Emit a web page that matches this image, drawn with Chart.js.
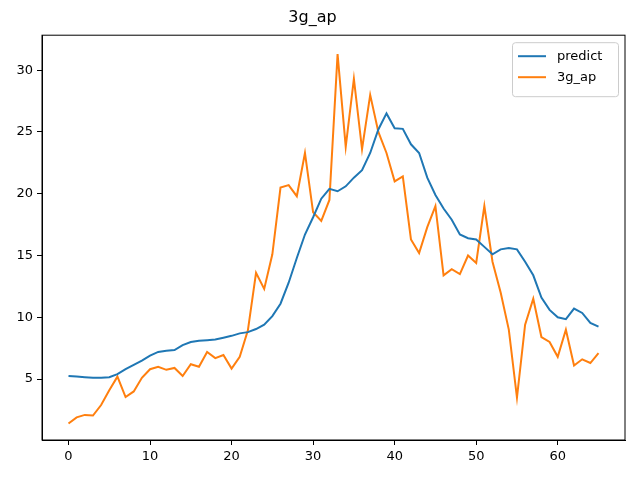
<!DOCTYPE html>
<html>
<head>
<meta charset="utf-8">
<script src="https://cdn.jsdelivr.net/npm/chart.js@4"></script>
<style>
  body { margin: 0; background: #fff; }
  #wrap { width: 640px; height: 480px; }
</style>
</head>
<body>
<div id="wrap"><canvas id="c" width="640" height="480"></canvas></div>
<script>
// donnees
var xValues = [];
for (var i = 0; i <= 65; i++) xValues.push(i);

var predictValues = [5.25, 5.2, 5.15, 5.1, 5.1, 5.15, 5.4, 5.8, 6.15, 6.5,
  6.9, 7.2, 7.3, 7.35, 7.75, 8.0, 8.1, 8.15, 8.2, 8.35,
  8.5, 8.7, 8.8, 9.05, 9.4, 10.1, 11.1, 12.8, 14.8, 16.7,
  18.1, 19.6, 20.4, 20.2, 20.6, 21.3, 21.9, 23.3, 25.2, 26.5,
  25.3, 25.25, 24.0, 23.3, 21.3, 19.9, 18.8, 17.9, 16.7, 16.4,
  16.3, 15.7, 15.1, 15.5, 15.6, 15.5, 14.5, 13.4, 11.6, 10.6,
  10.0, 9.85, 10.7, 10.35, 9.55, 9.25];

var apValues = [1.4, 1.9, 2.1, 2.05, 2.9, 4.1, 5.2, 3.55, 4.0, 5.1,
  5.8, 6.0, 5.75, 5.9, 5.25, 6.2, 6.0, 7.2, 6.7, 6.95,
  5.85, 6.8, 8.95, 13.6, 12.3, 15.1, 20.5, 20.7, 19.8, 23.3,
  18.5, 17.8, 19.5, 31.3, 23.8, 29.3, 23.6, 28.0, 25.0, 23.3,
  21.0, 21.4, 16.3, 15.2, 17.3, 19.0, 13.4, 13.9, 13.5, 15.0,
  14.4, 19.0, 14.5, 12.0, 9.0, 3.5, 9.4, 11.5, 8.4, 8.0,
  6.8, 9.0, 6.1, 6.6, 6.3, 7.1];

var seriesNames = ['predict', '3g_ap'];
var xTicks = [0, 10, 20, 30, 40, 50, 60];
var yTicks = [5, 10, 15, 20, 25, 30];

function toPoints(vals) {
    return vals.map(function (v, k) { return { x: xValues[k], y: v }; });
}

var tickFont = { family: 'DejaVu Sans', size: 13 };

// legende dessinee dans le coin haut droit
var legendBox = {
    id: 'legendBox',
    afterDraw: function (chart) {
        var ctx = chart.ctx, a = chart.chartArea;
        var w = 106, h = 54, x = a.right - w - 7, y = a.top + 7;
        ctx.save();
        ctx.fillStyle = 'rgba(255,255,255,0.8)';
        ctx.strokeStyle = '#cccccc';
        ctx.lineWidth = 1;
        ctx.beginPath();
        ctx.roundRect(x + 0.5, y + 0.5, w, h, 3);
        ctx.fill();
        ctx.stroke();
        ctx.font = '13px DejaVu Sans';
        ctx.textBaseline = 'middle';
        chart.data.datasets.forEach(function (ds, k) {
            var ly = y + 14 + k * 21;
            ctx.strokeStyle = ds.borderColor;
            ctx.lineWidth = 2;
            ctx.beginPath();
            ctx.moveTo(x + 6, ly);
            ctx.lineTo(x + 34, ly);
            ctx.stroke();
            ctx.fillStyle = '#000';
            ctx.fillText(ds.label, x + 45, ly);
        });
        ctx.restore();
    }
};

var ctx = document.getElementById('c').getContext('2d');
var chart = new Chart(ctx, {
    type: 'line',
    data: {
        datasets: [{
            label: seriesNames[0],
            data: toPoints(predictValues),
            borderColor: '#1f77b4',
            borderWidth: 2,
            pointRadius: 0,
            tension: 0
        }, {
            label: seriesNames[1],
            data: toPoints(apValues),
            borderColor: '#ff7f0e',
            borderWidth: 2,
            pointRadius: 0,
            tension: 0
        }]
    },
    options: {
        responsive: false,
        animation: false,
        layout: { padding: { left: 0, right: 15, top: 0, bottom: 0 } },
        plugins: {
            legend: { display: false },
            tooltip: { enabled: false },
            title: {
                display: true,
                text: '3g_ap',
                color: '#000',
                font: { family: 'DejaVu Sans', size: 16, weight: 'normal' },
                padding: { top: 8, bottom: 8 }
            }
        },
        scales: {
            x: {
                type: 'linear',
                min: -3.25,
                max: 68.25,
                afterBuildTicks: function (s) { s.ticks = xTicks.map(function (v) { return { value: v }; }); },
                afterFit: function (s) { s.height = 40; },
                grid: { drawOnChartArea: false, color: '#000', tickLength: 5, tickColor: '#000' },
                border: { color: '#000', width: 1 },
                ticks: { color: '#000', font: tickFont, padding: 4, maxRotation: 0 }
            },
            y: {
                min: 0.07,
                max: 32.83,
                afterBuildTicks: function (s) { s.ticks = yTicks.map(function (v) { return { value: v }; }); },
                afterFit: function (s) { s.width = 42; },
                grid: { drawOnChartArea: false, color: '#000', tickLength: 5, tickColor: '#000' },
                border: { color: '#000', width: 1 },
                ticks: { color: '#000', font: tickFont, padding: 4 }
            }
        }
    },
    plugins: [legendBox, {
        id: 'frame',
        afterDraw: function (chart) {
            var c = chart.ctx, a = chart.chartArea;
            c.save();
            c.strokeStyle = '#000';
            c.lineWidth = 1;
            c.strokeRect(a.left, a.top, a.right - a.left, a.bottom - a.top);
            c.restore();
        }
    }]
});
</script>
</body>
</html>
